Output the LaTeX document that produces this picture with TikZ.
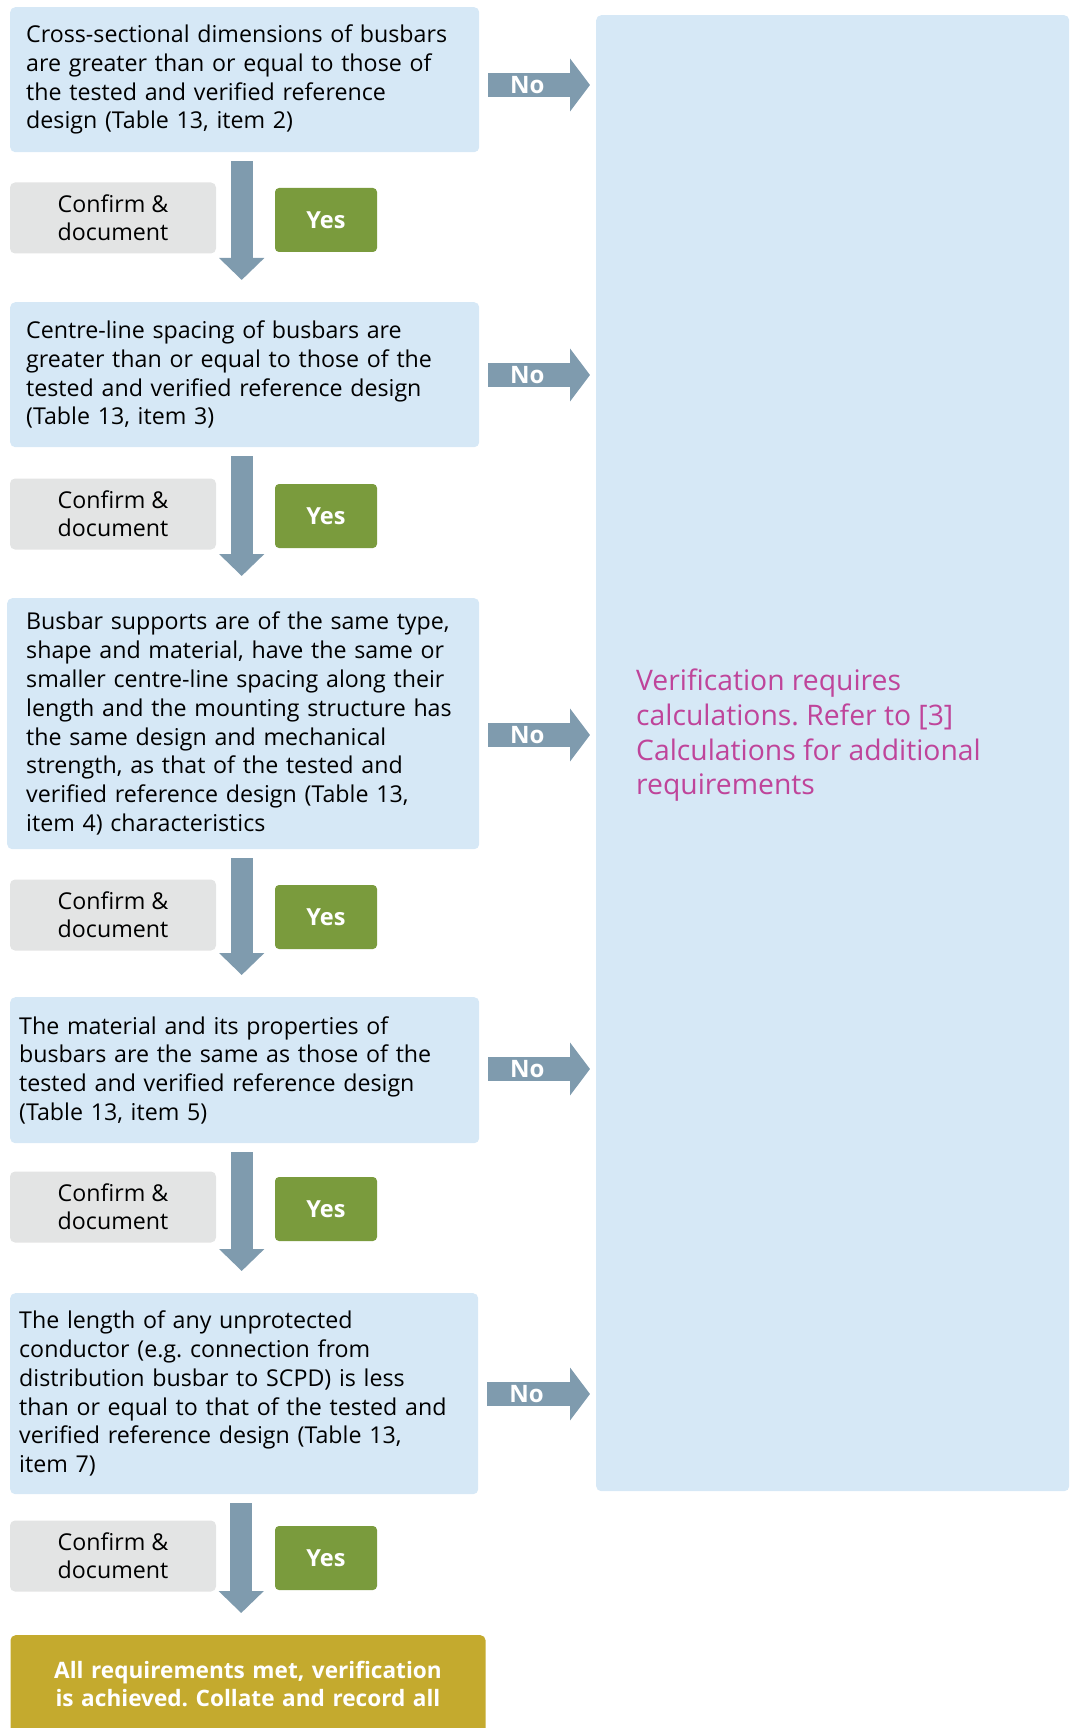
\documentclass[tikz,border=0pt]{standalone}
\usepackage{fontspec}
\setmainfont{Open Sans}
\usetikzlibrary{arrows.meta}
\definecolor{boxblue}{HTML}{D6E8F6}
\definecolor{arrowgray}{HTML}{7F9BAE}
\definecolor{confirmgray}{HTML}{E3E4E4}
\definecolor{yesgreen}{HTML}{7A9B3D}
\definecolor{donegold}{HTML}{C4AA2E}
\definecolor{refmagenta}{HTML}{BF449A}
\frenchspacing
\begin{document}
\begin{tikzpicture}[x=1pt, y=-1pt,
  qbox/.style={fill=boxblue, rounded corners=5pt, anchor=north west, align=left,
    text width=437pt, inner xsep=16pt, inner ysep=0pt,
    font=\fontsize{23.2}{28.8}\selectfont},
  confirm/.style={fill=confirmgray, rounded corners=5pt, align=center,
    minimum width=206pt, minimum height=71pt, inner sep=0pt,
    font=\fontsize{23.2}{28}\selectfont},
  yes/.style={fill=yesgreen, rounded corners=4pt, text=white, minimum width=102pt,
    minimum height=64pt, inner sep=0pt, font=\fontsize{23.5}{26}\selectfont\bfseries},
  downarr/.style={draw=arrowgray, line width=22pt,
    -{Triangle[width=44pt,length=22pt]}, shorten <=9pt, shorten >=22pt},
  noarr/.style={draw=arrowgray, line width=24pt, -{Triangle[width=52pt,length=20pt]},
    shorten <=9pt, shorten >=6pt}]
\useasboundingbox (0,0) rectangle (1072,1728);

% questions
\node[qbox, minimum height=145pt] (q1) at (10,7) {Cross-sectional dimensions of busbars\\are greater than or equal to those of\\the tested and verified reference\\design (Table 13, item 2)};
\node[qbox, minimum height=145pt] (q2) at (10,302) {Centre-line spacing of busbars are\\greater than or equal to those of the\\tested and verified reference design\\(Table 13, item 3)};
\node[qbox, minimum height=251pt, text width=434pt, inner xsep=19pt] (q3) at (7,598) {Busbar supports are of the same type,\\shape and material, have the same or\\smaller centre-line spacing along their\\length and the mounting structure has\\the same design and mechanical\\strength, as that of the tested and\\verified reference design (Table 13,\\item 4) characteristics};
\node[qbox, minimum height=146pt, text width=451pt, inner xsep=9pt] (q4) at (10,997) {The material and its properties of\\busbars are the same as those of the\\tested and verified reference design\\(Table 13, item 5)};
\node[qbox, minimum height=201pt, text width=450pt, inner xsep=9pt] (q5) at (10,1293) {The length of any unprotected\\conductor (e.g. connection from\\distribution busbar to SCPD) is less\\than or equal to that of the tested and\\verified reference design (Table 13,\\item 7)};

% outcomes
\node[fill=boxblue, rounded corners=5pt, anchor=north west, minimum width=473pt, minimum height=1476pt] (ver) at (596,15) {};
\node[anchor=north west, align=left, inner sep=0pt, text=refmagenta, font=\fontsize{28.3}{34.6}\selectfont] (vertxt) at (636,669) {Verification requires\\calculations. Refer to [3]\\Calculations for additional\\requirements};
\node[fill=donegold, rounded corners=5pt, anchor=north, align=center, text width=443pt, inner xsep=16pt, inner ysep=26pt, text depth=70pt, text=white, font=\fontsize{22.6}{28}\selectfont\bfseries] (done) at (248,1635) {All requirements met, verification\\is achieved. Collate and record all};

% yes path
\draw[downarr] ([xshift=-3pt]q1.south) -- ([xshift=-3pt]q1.south |- q2.north);
\draw[downarr] ([xshift=-3pt]q2.south) -- ([xshift=-3pt]q2.south |- q3.north);
\draw[downarr] ([xshift=-3pt]q2.south |- q3.south) -- ([xshift=-3pt]q2.south |- q4.north);
\draw[downarr] ([xshift=-3pt]q4.south) -- ([xshift=-3pt]q4.south |- q5.north);
\draw[downarr] ([xshift=-3pt]q5.south) -- ([xshift=-3pt]q5.south |- done.north);
\foreach \i/\y in {1/218,2/514,3/915,4/1207,5/1556} {
  \node[confirm] (c\i) at (113,\y) {Confirm \&\\document};
  \node[yes] (y\i) at (326,\y+2) {Yes};
}

% no path
\foreach \i/\y in {1/85,2/375,3/735,4/1069,5/1394}
  \draw[noarr] (q\i.east |- 0,\y) -- (ver.west |- 0,\y) node[pos=0.41, text=white, font=\fontsize{24}{26}\selectfont\bfseries] {No};
\end{tikzpicture}
\end{document}
